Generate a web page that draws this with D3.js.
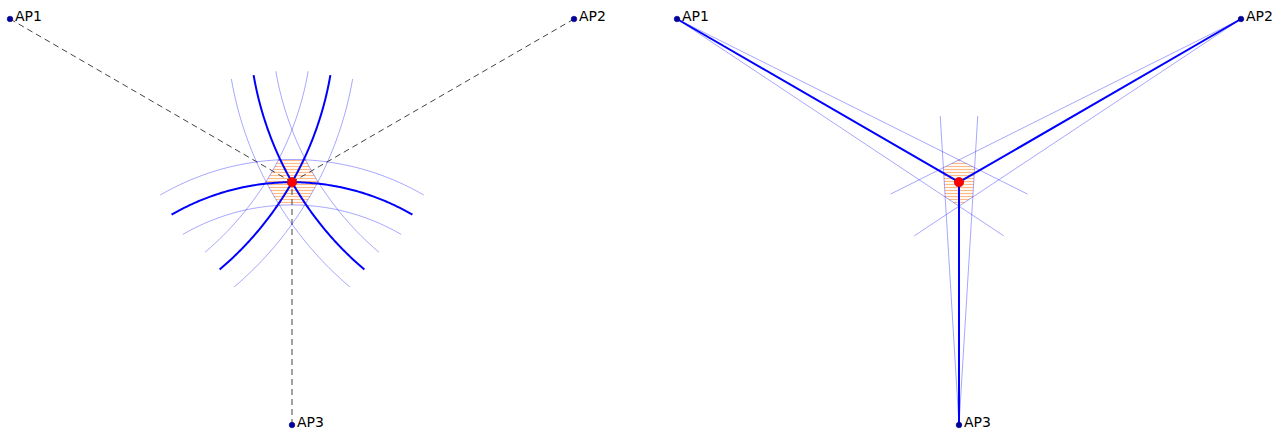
<!DOCTYPE html>
<html>
<head>
<meta charset="utf-8">
<script src="https://cdn.jsdelivr.net/npm/d3@7"></script>
<style>
  html, body { margin: 0; padding: 0; background: #fff; }
  svg { display: block; }
  text { font-family: "DejaVu Sans", sans-serif; font-size: 14px; fill: #000; }
</style>
</head>
<body>
<script>
// Access points and target position (data units)
const apNames = ["AP1", "AP2", "AP3"];
const apX = [-3.5, 3.5, 0];
const apY = [2, 2, -3];
const targetXY = [0, -0.01];

// Range (ToA) uncertainty: radial band half-width, and angular extent of each drawn arc
const rangeErr = 0.28;
const arcHalfSpanDeg = [20, 20, 30];

// Angle (AoA) uncertainty: half-width of each bearing cone, and how far rays run past the target
const angleErrDeg = 3.5;
const rayOvershoot = 0.82;

const W = 1277, H = 429;
const svg = d3.select("body").append("svg").attr("width", W).attr("height", H);
const defs = svg.append("defs");

// Horizontal hatch used for the feasible region
const pat = defs.append("pattern")
  .attr("id", "hatch").attr("patternUnits", "userSpaceOnUse")
  .attr("width", 8).attr("height", 3);
pat.append("line").attr("x1", 0).attr("x2", 8).attr("y1", 1.5).attr("y2", 1.5)
  .attr("stroke", "#ffa868").attr("stroke-width", 1.2).attr("stroke-opacity", 0.8);

const y = d3.scaleLinear().domain([2, -3]).range([19, 425]);
const xLeft = d3.scaleLinear().domain([-3.5, 3.5]).range([10, 574]);
const xRight = d3.scaleLinear().domain([-3.5, 3.5]).range([677, 1241]);

const aps = apNames.map((n, i) => {
  const dx = targetXY[0] - apX[i], dy = targetXY[1] - apY[i];
  return { name: n, x: apX[i], y: apY[i], d: Math.hypot(dx, dy), th: Math.atan2(dy, dx), span: arcHalfSpanDeg[i] * Math.PI / 180 };
});

function arcPoints(ap, r, a0, a1, n = 120) {
  return d3.range(n + 1).map(k => {
    const t = a0 + (a1 - a0) * k / n;
    return [ap.x + r * Math.cos(t), ap.y + r * Math.sin(t)];
  });
}

function markers(g, x) {
  g.selectAll("circle.ap").data(aps).join("circle")
    .attr("class", "ap")
    .attr("cx", d => x(d.x)).attr("cy", d => y(d.y)).attr("r", 2.8)
    .attr("fill", "#0000a0").attr("stroke", "#000080").attr("stroke-width", 0.6);
  g.selectAll("text.lbl").data(aps).join("text")
    .attr("class", "lbl")
    .attr("x", d => x(d.x) + 5).attr("y", d => y(d.y) + 2)
    .text(d => d.name);
  g.append("circle")
    .attr("cx", x(targetXY[0])).attr("cy", y(targetXY[1])).attr("r", 4.6)
    .attr("fill", "#ff0000").attr("stroke", "#cc0000").attr("stroke-width", 0.8);
}

// ---------- Left panel: range circles ----------
{
  const x = xLeft;
  const g = svg.append("g");
  const line = d3.line().x(p => x(p[0])).y(p => y(p[1]));

  // Feasible region = intersection of three annuli
  aps.forEach((ap, i) => {
    const outer = arcPoints(ap, ap.d + rangeErr, 0, 2 * Math.PI, 360);
    const inner = arcPoints(ap, ap.d - rangeErr, 0, 2 * Math.PI, 360);
    defs.append("clipPath").attr("id", "ann" + i)
      .append("path").attr("clip-rule", "evenodd")
      .attr("d", line(outer) + "Z" + line(inner) + "Z");
  });
  let holder = g;
  aps.forEach((ap, i) => { holder = holder.append("g").attr("clip-path", `url(#ann${i})`); });
  holder.append("rect").attr("x", 0).attr("y", 0).attr("width", 640).attr("height", H)
    .attr("fill", "url(#hatch)");

  // Dashed bearings from each AP to the target
  g.selectAll("line.bear").data(aps).join("line")
    .attr("x1", d => x(d.x)).attr("y1", d => y(d.y))
    .attr("x2", x(targetXY[0])).attr("y2", y(targetXY[1]))
    .attr("stroke", "#444").attr("stroke-width", 1).attr("stroke-dasharray", "6,4");

  // Thin error arcs then thick nominal arcs
  aps.forEach(ap => {
    [-rangeErr, rangeErr].forEach(e => {
      g.append("path").attr("d", line(arcPoints(ap, ap.d + e, ap.th - ap.span, ap.th + ap.span)))
        .attr("fill", "none").attr("stroke", "#0000ff").attr("stroke-opacity", 0.35).attr("stroke-width", 1);
    });
  });
  aps.forEach(ap => {
    g.append("path").attr("d", line(arcPoints(ap, ap.d, ap.th - ap.span, ap.th + ap.span)))
      .attr("fill", "none").attr("stroke", "#0000ff").attr("stroke-width", 2);
  });
  markers(g, x);
}

// ---------- Right panel: bearing rays ----------
{
  const x = xRight;
  const g = svg.append("g");
  const e = angleErrDeg * Math.PI / 180;
  const line = d3.line().x(p => x(p[0])).y(p => y(p[1]));

  // Feasible region = intersection of three bearing cones
  aps.forEach((ap, i) => {
    const L = 20;
    const pts = [[ap.x, ap.y],
      [ap.x + L * Math.cos(ap.th - e), ap.y + L * Math.sin(ap.th - e)],
      [ap.x + L * Math.cos(ap.th + e), ap.y + L * Math.sin(ap.th + e)]];
    defs.append("clipPath").attr("id", "cone" + i)
      .append("path").attr("d", line(pts) + "Z");
  });
  let holder = g;
  aps.forEach((ap, i) => { holder = holder.append("g").attr("clip-path", `url(#cone${i})`); });
  holder.append("rect").attr("x", 640).attr("y", 0).attr("width", W - 640).attr("height", H)
    .attr("fill", "url(#hatch)");

  // Thin cone edges
  aps.forEach(ap => {
    const L = ap.d + rayOvershoot;
    [-e, e].forEach(s => {
      g.append("line")
        .attr("x1", x(ap.x)).attr("y1", y(ap.y))
        .attr("x2", x(ap.x + L * Math.cos(ap.th + s))).attr("y2", y(ap.y + L * Math.sin(ap.th + s)))
        .attr("stroke", "#0000ff").attr("stroke-opacity", 0.35).attr("stroke-width", 1);
    });
  });
  // Nominal bearings
  g.selectAll("line.nom").data(aps).join("line")
    .attr("class", "nom")
    .attr("x1", d => x(d.x)).attr("y1", d => y(d.y))
    .attr("x2", x(targetXY[0])).attr("y2", y(targetXY[1]))
    .attr("stroke", "#0000ff").attr("stroke-width", 2);
  markers(g, x);
}
</script>
</body>
</html>
